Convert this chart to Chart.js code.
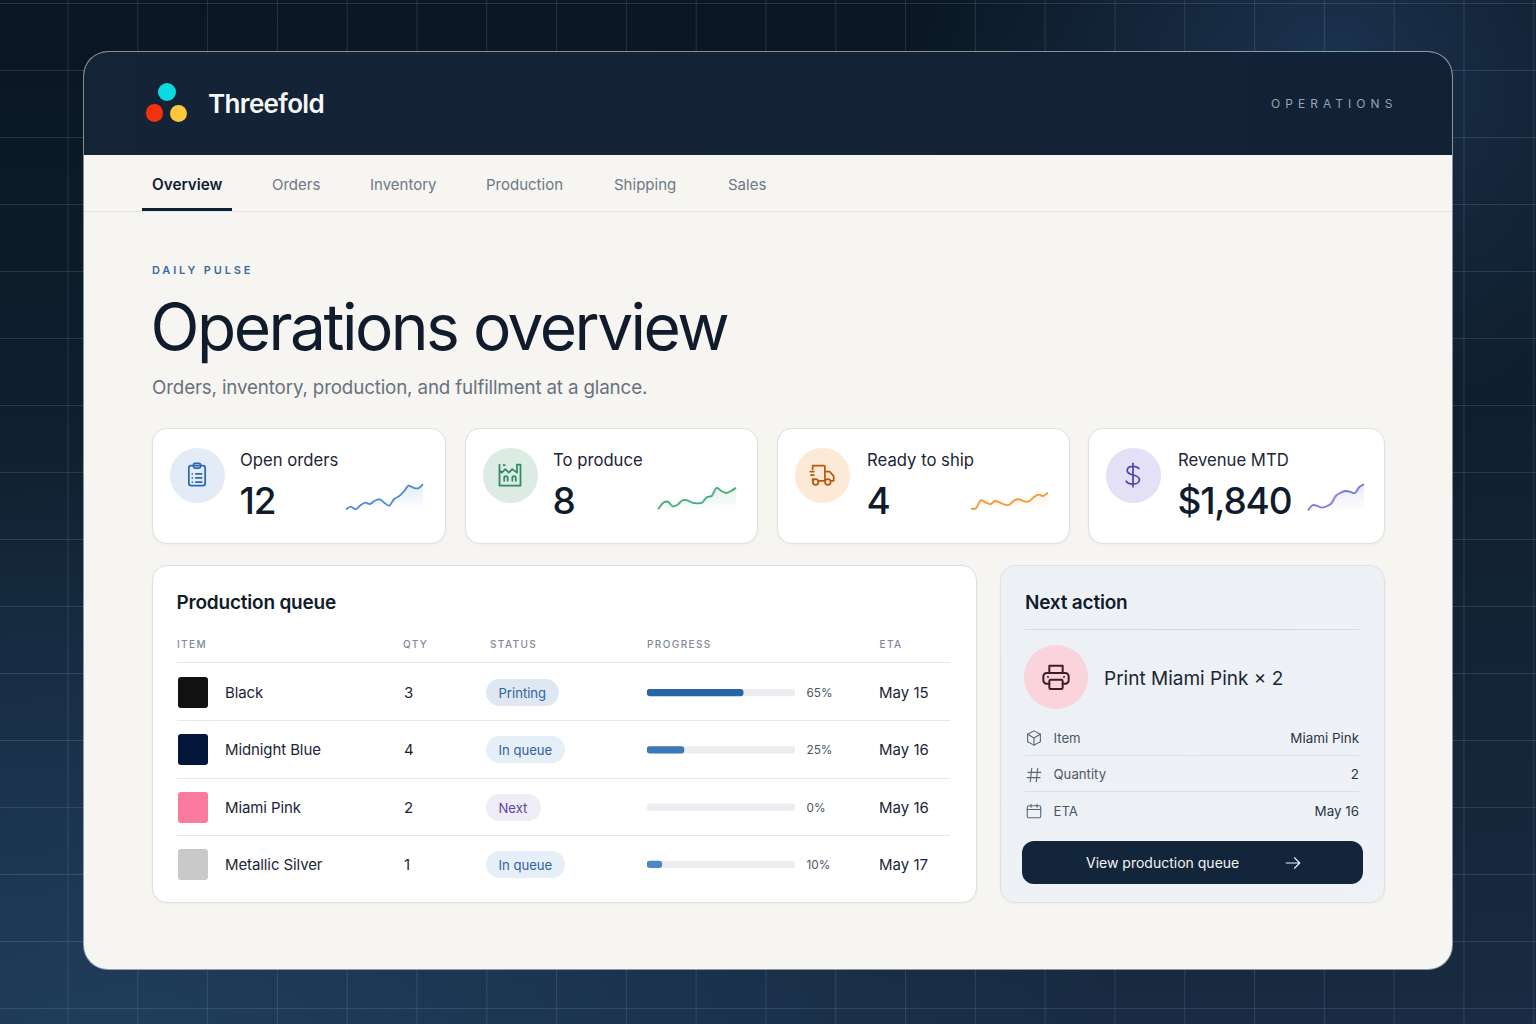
<!DOCTYPE html>
<html>
<head>
<title>Threefold Operations</title>
<script src="https://cdn.jsdelivr.net/npm/chart.js"></script>
<style>
html, body { margin: 0; padding: 0; }
body { width: 1536px; height: 1024px; overflow: hidden; position: relative; font-family: Inter, sans-serif; color: #13202f;
  background:
    radial-gradient(420px 360px at 1330px 60px, rgba(34,62,96,.7), rgba(34,62,96,0)),
    radial-gradient(1000px 600px at 120px 1050px, rgba(32,62,94,.95), rgba(32,62,94,0)),
    linear-gradient(180deg, #0a1622 0%, #10202f 45%, #182b42 100%); }
.grid { position: absolute; inset: 0;
  background-image: linear-gradient(to right, rgba(160,180,205,.17) 1px, transparent 1px), linear-gradient(to bottom, rgba(160,180,205,.17) 1px, transparent 1px);
  background-size: 69.8px 100%, 100% 67px; background-position: -2.3px 0, 0 3px; }
.t { position: absolute; white-space: nowrap; line-height: 1; transform: translateY(-50%); }
.box { position: absolute; box-sizing: border-box; }
#app { left: 84px; top: 52px; width: 1368px; height: 917px; border-radius: 24px; background: #f6f5f1; overflow: hidden; box-shadow: 0 0 0 1px rgba(255,255,255,.5); }
#header { left: 84px; top: 52px; width: 1368px; height: 103px; border-radius: 24px 24px 0 0; background: linear-gradient(90deg, #142436, #122135); }
.card { background: #fff; border: 1.5px solid #dcdfe4; border-radius: 15px; box-shadow: 0 1px 3px rgba(20,35,55,.04); }
.dot { position: absolute; border-radius: 50%; }
svg { position: absolute; fill: none; stroke-linecap: round; stroke-linejoin: round; }
canvas { position: absolute; }
</style>
</head>
<body>
<div class="grid"></div>
<div id="app" class="box"></div>
<div id="header" class="box"></div>
<div id="page"></div>

<script>
// kpi cards
const kpiLabels = ['Open orders', 'To produce', 'Ready to ship', 'Revenue MTD'];
const kpiValues = ['12', '8', '4', '$1,840'];
const openOrdersTrend = [10.7, 13.3, 10.7, 14.7, 17.3, 16, 19.3, 20.7, 17, 14.3, 21, 23.7, 28.3, 34.3, 32.3, 31.7, 35.7];
const toProduceTrend = [10.7, 17, 18.3, 13.7, 15.3, 19.7, 19.7, 17.3, 16.7, 17.3, 22.7, 24, 32.3, 29, 27, 29, 32.3];
const readyToShipTrend = [11, 11.7, 19.7, 17.7, 15.7, 19, 17.3, 15.3, 15.3, 19.7, 20.7, 18.7, 18.7, 22.7, 25.3, 24, 27.3];
const revenueTrend = [9.7, 15, 14, 12.3, 13.7, 16.7, 24.3, 27.3, 29, 28.3, 26.7, 33, 35.7];

// production queue
const queueItems = ['Black', 'Midnight Blue', 'Miami Pink', 'Metallic Silver'];
const queueQty = [3, 4, 2, 1];
const queueStatus = ['Printing', 'In queue', 'Next', 'In queue'];
const queueProgress = [65, 25, 0, 10];
const queueEta = ['May 15', 'May 16', 'May 16', 'May 17'];
const queueHeaders = ['ITEM', 'QTY', 'STATUS', 'PROGRESS', 'ETA'];

const navItems = ['Overview', 'Orders', 'Inventory', 'Production', 'Shipping', 'Sales'];
const nextActionLabels = ['Item', 'Quantity', 'ETA'];
const nextActionValues = ['Miami Pink', '2', 'May 16'];

const page = document.getElementById('page');

function text(str, x, y, size, color, weight, extra) {
    const el = document.createElement('div');
    el.className = 't';
    el.textContent = str;
    el.style.cssText = `left:${x}px;top:${y}px;font-size:${size}px;color:${color};font-weight:${weight || 400};${extra || ''}`;
    page.appendChild(el);
    return el;
}
function box(cls, x, y, w, h, extra) {
    const el = document.createElement('div');
    el.className = 'box ' + cls;
    el.style.cssText = `left:${x}px;top:${y}px;width:${w}px;height:${h}px;${extra || ''}`;
    page.appendChild(el);
    return el;
}
function hline(x, y, w, color) {
    box('', x, y, w, 1, 'background:' + color);
}
function icon(x, y, size, stroke, width, paths) {
    const wrap = document.createElement('div');
    wrap.innerHTML = `<svg viewBox="0 0 24 24" style="left:${x}px;top:${y}px;width:${size}px;height:${size}px;stroke:${stroke};stroke-width:${width}">${paths}</svg>`;
    page.appendChild(wrap);
}

// header
box('dot', 157.5, 83, 18, 18, 'background:#0adbe0');
box('dot', 145.5, 104, 17.5, 17.5, 'background:#f5300f');
box('dot', 169.5, 104.5, 17.5, 17.5, 'background:#fdc93c');
text('Threefold', 208, 104, 26, '#f7f8f8', 600, 'letter-spacing:-.65px');
text('OPERATIONS', 1271, 103.5, 12, '#98a3b0', 400, 'letter-spacing:5.05px');

// nav
const navX = [152, 272, 370, 486, 614, 728];
navItems.forEach((n, i) => text(n, navX[i], i === 0 ? 185 : 184, i === 0 ? 15.3 : 15, i === 0 ? '#111d2e' : '#6f7885', i === 0 ? 600 : 400));
hline(84, 211, 1368, '#e3e4e4');
box('', 142, 208, 90, 3, 'background:#0f2135');

// title block
text('DAILY PULSE', 152, 270, 11, '#3f6a9a', 600, 'letter-spacing:2.85px');
text('Operations overview', 150.5, 327, 64, '#101c2c', 400, 'letter-spacing:-2.5px');
text('Orders, inventory, production, and fulfillment at a glance.', 152, 387.5, 18.8, '#687280', 400, 'letter-spacing:-.16px');

// kpi cards
const cardX = [152, 465, 777, 1088];
const cardW = [294, 293, 293, 297];
const circleBg = ['#e3ecf6', '#dcebe3', '#fcead7', '#e4e0f5'];
const lineColor = ['#4a8ad6', '#3fa877', '#f9922e', '#7674d6'];
const fillRgb = ['74,138,214', '63,168,119', '249,146,46', '118,116,214'];
const labelX = [240, 553, 867, 1178];
const trends = [openOrdersTrend, toProduceTrend, readyToShipTrend, revenueTrend];
// plot area of each sparkline in page px
const sparkBox = [[346, 423], [658, 735.5], [971, 1047.5], [1308, 1363.5]];

const kpiIcons = [
    '<rect x="5" y="4" width="14" height="17" rx="2"/><rect x="9" y="2" width="6" height="4" rx="1.2"/><path d="M8 11h.01M11 11h5M8 14.5h.01M11 14.5h5M8 18h.01M11 18h5"/>',
    '<path d="M3 3v18h18V3h-3v7l-4-3-3 3-3-3-3 3-2-2"/><path d="M6.5 3.5h1"/><path d="M7 17v-2.5a1 1 0 0 1 3 0V17M14 17v-2.5a1 1 0 0 1 3 0V17"/>',
    '<path d="M4 4h9.500a1 1 0 0 1 1 1v12h-5M14.500 9h4l3.500 4v4h-2M4 4v3M2 9h3M2.500 12h2.500M4 15v2"/><circle cx="6.500" cy="18" r="2.400"/><circle cx="17" cy="18" r="2.400"/>',
    '<path d="M12 2v20M17 6.5C16 5 14.3 4.5 12 4.5c-3 0-5 1.5-5 3.7 0 5.3 10.500 2.300 10.500 7.800 0 2.300-2.300 3.800-5.500 3.800-2.700 0-4.700-.8-5.800-2.500"/>'
];
const iconStroke = ['#2e68b0', '#2f8a60', '#b9560f', '#4f47ab'];

kpiLabels.forEach((label, i) => {
    box('card', cardX[i], 428, cardW[i], 116);
    box('dot', cardX[i] + 18, 448, 54.5, 54.5, 'background:' + circleBg[i]);
    icon(cardX[i] + 31, 461, 28, iconStroke[i], 1.5, kpiIcons[i]);
    text(label, labelX[i], 460, 16.7, '#1a2636');
    text(kpiValues[i], labelX[i] - .5, 500, 37, '#101c2c', 500, 'letter-spacing:-1.2px');
    drawSpark(trends[i], sparkBox[i], lineColor[i], fillRgb[i]);
});

function drawSpark(values, area, color, rgb) {
    const left = area[0] - 6, w = area[1] - area[0] + 12;
    const c = document.createElement('canvas');
    c.width = w; c.height = 45;
    c.style.cssText = `left:${left}px;top:475px;width:${w}px;height:45px`;
    page.appendChild(c);
    new Chart(c.getContext('2d'), {
        type: 'line',
        data: {
            labels: values.map((v, i) => i),
            datasets: [{
                data: values,
                borderColor: color,
                borderWidth: 1.8,
                tension: 0.3,
                pointRadius: 0,
                fill: 'start',
                clip: false,
                backgroundColor: function(ctx) {
                    const g = ctx.chart.ctx.createLinearGradient(0, 5, 0, 36);
                    g.addColorStop(0, `rgba(${rgb},.18)`);
                    g.addColorStop(1, `rgba(${rgb},0)`);
                    return g;
                }
            }]
        },
        options: {
            responsive: false,
            animation: false,
            layout: { padding: { left: 6, right: 6, top: 0, bottom: 0 } },
            plugins: { legend: { display: false }, tooltip: { enabled: false } },
            scales: {
                x: { display: false },
                y: { display: false, min: 0, max: 45 }
            }
        }
    });
}

// production queue
box('card', 152, 565, 825, 338);
text('Production queue', 176.5, 602, 19, '#101c2c', 600, 'letter-spacing:-.2px');
const headX = [177, 403, 490, 647, 879.5];
queueHeaders.forEach((h, i) => text(h, headX[i], 644, 10, '#7f8897', 500, 'letter-spacing:1.4px'));
[662, 720, 778, 835].forEach(y => hline(177, y, 773, '#e4e8ee'));

const rowY = [692.5, 749.5, 807.5, 864.5];
const swatches = ['#111111', '#03163a', '#fb7a9e', '#c9c9c9'];
const badgeBg = { 'Printing': '#dfe8f2', 'In queue': '#e6eff7', 'Next': '#efecf8' };
const badgeFg = { 'Printing': '#2f62a3', 'In queue': '#2f62a3', 'Next': '#5749a8' };
const badgeW = { 'Printing': 73, 'In queue': 79, 'Next': 55 };

queueItems.forEach((item, i) => {
    const y = rowY[i];
    box('', 178, y - 15.5, 30, 31, `background:${swatches[i]};border-radius:3px`);
    text(item, 225, y - .3, 15, '#1a2636', 400, 'letter-spacing:-.1px');
    text(String(queueQty[i]), 404, y - .3, 15, '#1a2636');
    const st = queueStatus[i];
    box('', 486, y - 13.5, badgeW[st], 27, `background:${badgeBg[st]};border-radius:14px`);
    text(st, 498.5, y + 1.5, 13.1, badgeFg[st]);
    text(queueProgress[i] + '%', 806.5, y + 1.5, 11.8, '#4a5566');
    text(queueEta[i], 879, y - .2, 15, '#1a2636');
});

// progress bars share one chart: track behind, value on top
const pc = document.createElement('canvas');
pc.width = 164; pc.height = 229;
pc.style.cssText = 'left:639px;top:664px;width:164px;height:229px';
page.appendChild(pc);
new Chart(pc.getContext('2d'), {
    type: 'bar',
    data: {
        labels: queueItems,
        datasets: [
            {
                data: queueProgress,
                grouped: false,
                order: 1,
                backgroundColor: ['#2a64a8', '#3a78b8', 'rgba(0,0,0,0)', '#4d87c6'],
                barThickness: 6.5,
                borderRadius: 3.2,
                borderSkipped: false
            },
            {
                data: queueItems.map(() => 100),
                grouped: false,
                order: 2,
                backgroundColor: '#ecedf1',
                barThickness: 6.5,
                borderRadius: 3.2,
                borderSkipped: false
            }
        ]
    },
    options: {
        indexAxis: 'y',
        responsive: false,
        animation: false,
        layout: { padding: { left: 8, right: 8 } },
        plugins: { legend: { display: false }, tooltip: { enabled: false } },
        scales: {
            x: { display: false, min: 0, max: 100 },
            y: { display: false }
        }
    }
});

// next action
box('card', 1000, 565, 385, 338, 'background:linear-gradient(160deg,#edf1f6,#eef2f6);border-color:#dce1e7');
text('Next action', 1025, 602, 19, '#101c2c', 600, 'letter-spacing:-.2px');
hline(1025, 629, 334, '#d6dce3');
box('dot', 1024, 645, 64, 64, 'background:#fbd3da');
icon(1040, 661, 32, '#3a1f2a', 1.5, '<path d="M7 9V3.500h10V9"/><path d="M7 17H5a2.500 2.500 0 0 1-2.500-2.500v-3A2.500 2.500 0 0 1 5 9h14a2.500 2.500 0 0 1 2.500 2.500v3A2.500 2.500 0 0 1 19 17h-2"/><rect x="7" y="14" width="10" height="7" rx="1"/><path d="M6 12h.01M18 12h.01"/>');
text('Print Miami Pink × 2', 1104, 678, 19, '#1a2636');

const detailY = [738.5, 775, 811.5];
const detailIcons = [
    '<path d="M12 2.500l8.500 4.500v10L12 21.500 3.500 17V7z"/><path d="M3.500 7L12 12l8.500-5M12 12v9.500"/>',
    '<path d="M9 3L7 21M17 3l-2 18M4 8.500h17M3 15.500h17"/>',
    '<rect x="3" y="5" width="18" height="16" rx="2"/><path d="M3 10h18M8 3v4M16 3v4"/>'
];
nextActionLabels.forEach((label, i) => {
    icon(1025, detailY[i] - 9.5, 18, '#5a6678', 1.5, detailIcons[i]);
    text(label, 1053.5, detailY[i], 13.2, '#4c5768');
    const v = text(nextActionValues[i], 0, detailY[i], 13.4, '#2a3544');
    v.style.left = 'auto';
    v.style.right = (1536 - 1359) + 'px';
});
hline(1025, 755, 334, '#d9dfe6');
hline(1025, 791, 334, '#d9dfe6');

box('', 1022, 841, 340.5, 42.5, 'background:#12253a;border-radius:12px');
text('View production queue', 1086, 863, 14, '#f2f4f6');
icon(1284, 854, 18, '#f2f4f6', 1.5, '<path d="M3 12h18M14 5l7 7-7 7"/>');
</script>
</body>
</html>
